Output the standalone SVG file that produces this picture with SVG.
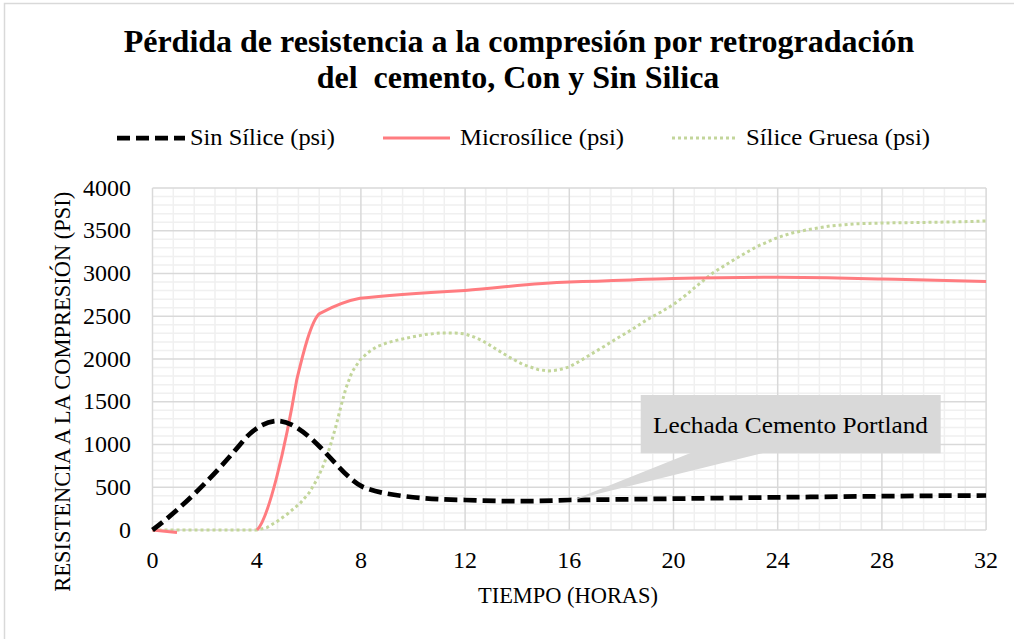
<svg xmlns="http://www.w3.org/2000/svg" width="1014" height="639" viewBox="0 0 1014 639">
<style>
.t{font-family:"Liberation Serif","Times New Roman",serif;fill:#000}
.title{font-size:32px;font-weight:bold;text-anchor:middle}
.lbl{font-size:24px}
.yt{font-size:24px;text-anchor:end}
.xt{font-size:24px;text-anchor:middle}
.minor{stroke:#f0f0f0;stroke-width:1.5;fill:none}
.major{stroke:#d9d9d9;stroke-width:1.5;fill:none}
.sin{stroke:#000;stroke-width:4.75;stroke-dasharray:13 6;fill:none}
.micro{stroke:#ff7c80;stroke-width:3;fill:none;stroke-linejoin:round}
.gruesa{stroke:#c3d69b;stroke-width:3;stroke-dasharray:3 3;fill:none;stroke-linejoin:round}
</style>
<rect x="0" y="0" width="1014" height="639" fill="#fff"/>
<rect x="4.5" y="3.5" width="1030" height="660" fill="none" stroke="#d9d9d9" stroke-width="1.5"/>
<g id="title">
<text class="t title" x="519" y="52">Pérdida de resistencia a la compresión por retrogradación</text>
<text class="t title" x="518" y="88" xml:space="preserve">del  cemento, Con y Sin Silica</text>
</g>
<g id="legend">
<line class="sin" x1="117" y1="138" x2="185" y2="138"/>
<text class="t lbl" x="190" y="145" textLength="145" lengthAdjust="spacingAndGlyphs">Sin Sílice (psi)</text>
<line class="micro" x1="383" y1="138" x2="450" y2="138"/>
<text class="t lbl" x="460" y="145" textLength="164" lengthAdjust="spacingAndGlyphs">Microsílice (psi)</text>
<line class="gruesa" x1="672" y1="138" x2="738" y2="138"/>
<text class="t lbl" x="746" y="145" textLength="184" lengthAdjust="spacingAndGlyphs">Sílice Gruesa (psi)</text>
</g>
<g id="grid">
<path class="minor" d="M173.3 188V530M194.2 188V530M215 188V530M235.9 188V530M277.5 188V530M298.4 188V530M319.2 188V530M340.1 188V530M381.7 188V530M402.6 188V530M423.4 188V530M444.3 188V530M485.9 188V530M506.8 188V530M527.6 188V530M548.5 188V530M590.1 188V530M611 188V530M631.8 188V530M652.7 188V530M694.3 188V530M715.2 188V530M736 188V530M756.9 188V530M798.5 188V530M819.4 188V530M840.2 188V530M861.1 188V530M902.7 188V530M923.6 188V530M944.4 188V530M965.3 188V530"/>
<path class="minor" d="M152.5 521.45H986.1M152.5 512.9H986.1M152.5 504.35H986.1M152.5 495.8H986.1M152.5 478.7H986.1M152.5 470.15H986.1M152.5 461.6H986.1M152.5 453.05H986.1M152.5 435.95H986.1M152.5 427.4H986.1M152.5 418.85H986.1M152.5 410.3H986.1M152.5 393.2H986.1M152.5 384.65H986.1M152.5 376.1H986.1M152.5 367.55H986.1M152.5 350.45H986.1M152.5 341.9H986.1M152.5 333.35H986.1M152.5 324.8H986.1M152.5 307.7H986.1M152.5 299.15H986.1M152.5 290.6H986.1M152.5 282.05H986.1M152.5 264.95H986.1M152.5 256.4H986.1M152.5 247.85H986.1M152.5 239.3H986.1M152.5 222.2H986.1M152.5 213.65H986.1M152.5 205.1H986.1M152.5 196.55H986.1"/>
<path class="major" d="M152.5 188V530M256.7 188V530M360.9 188V530M465.1 188V530M569.3 188V530M673.5 188V530M777.7 188V530M881.9 188V530M986.1 188V530"/>
<path class="major" d="M152.5 530H986.1M152.5 487.25H986.1M152.5 444.5H986.1M152.5 401.75H986.1M152.5 359H986.1M152.5 316.25H986.1M152.5 273.5H986.1M152.5 230.75H986.1M152.5 188H986.1"/>
</g>
<g id="axes">
<text class="t yt" x="131" y="537.5">0</text>
<text class="t yt" x="131" y="494.75">500</text>
<text class="t yt" x="131" y="452">1000</text>
<text class="t yt" x="131" y="409.25">1500</text>
<text class="t yt" x="131" y="366.5">2000</text>
<text class="t yt" x="131" y="323.75">2500</text>
<text class="t yt" x="131" y="281">3000</text>
<text class="t yt" x="131" y="238.25">3500</text>
<text class="t yt" x="131" y="195.5">4000</text>
<text class="t xt" x="152.5" y="568">0</text>
<text class="t xt" x="256.7" y="568">4</text>
<text class="t xt" x="360.9" y="568">8</text>
<text class="t xt" x="465.1" y="568">12</text>
<text class="t xt" x="569.3" y="568">16</text>
<text class="t xt" x="673.5" y="568">20</text>
<text class="t xt" x="777.7" y="568">24</text>
<text class="t xt" x="881.9" y="568">28</text>
<text class="t xt" x="986.1" y="568">32</text>
<text class="t lbl" x="478" y="603" textLength="180" lengthAdjust="spacingAndGlyphs">TIEMPO (HORAS)</text>
<text class="t lbl" transform="translate(70,391.7) rotate(-90)" text-anchor="middle" textLength="400" lengthAdjust="spacingAndGlyphs">RESISTENCIA A LA COMPRESIÓN (PSI)</text>
</g>
<g id="series">
<path id="gruesa" class="gruesa" d="M152.5,530 L257,530 L267,527.5 L276.7,521.7 L288,513.5 L300,503.3 L309,493 L316.7,480 L324,464 L330,446.7 L336,426 L341,406 L346,388 L352,372 L360,360 L368,352.5 L376.7,346.7 L388,342.5 L400,339.5 L412,337 L425,334.5 L440,333 L455,333 L465,334 L474,337 L483,341 L496,349 L509,357 L523,364.5 L538,369.5 L548,371 L558,370 L569,367 L580,361 L592,353.6 L604,346.5 L616,339 L632,329.5 L647,319.7 L661,312 L673.5,304.4 L686,295 L697,285.7 L713,272.8 L736,258.5 L757,246.5 L777.7,237.5 L792,233 L809,229.4 L830,226 L856,223.8 L882,223 L920,222.5 L960,221.8 L986,221"/>
<path id="micro" class="micro" d="M152.5,530 L177,532.5 M257,530 C268,520 285,450 296.7,380 C302,358 311,319.6 320,313.3 C333,306.5 345,301 360,298.3 C380,296 420,293 465,290.4 C500,288 530,283 569.3,281.9 C620,280.5 650,279 673.5,278.6 C720,277.5 750,277.3 777.7,277.3 C830,277.3 850,278 881.9,279 C920,280 960,281 986.1,281.6"/>
<path id="sin" class="sin" d="M152.5,530 C182.5,507.5 213,477 243,441 C255,426.6 268,421 278,421 C292,421 308,435 320,447 C334,461 350,481.3 363,487 C380,494.5 420,499.5 465,500 C500,501.5 535,501.5 569.3,500 C700,498.5 850,496 986.1,495.5"/>
</g>
<g id="callout">
<path d="M693,452 L766.7,452 L573,500 Z" fill="#d9d9d9"/>
<rect x="640.7" y="395" width="300" height="58.3" fill="#d9d9d9"/>
<text class="t lbl" x="653" y="433.3" textLength="275" lengthAdjust="spacingAndGlyphs">Lechada Cemento Portland</text>
</g>
</svg>
